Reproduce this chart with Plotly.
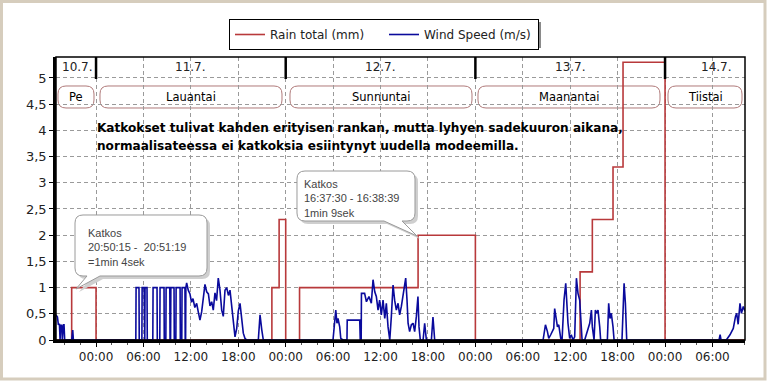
import plotly.graph_objects as go

# ---------------- data ----------------
rain_time = ["2015-07-10 18:56", "2015-07-10 20:55", "2015-07-11 00:00", "2015-07-11 22:15",
             "2015-07-11 23:10", "2015-07-12 00:00", "2015-07-12 01:45", "2015-07-12 16:45",
             "2015-07-13 00:00", "2015-07-13 13:15", "2015-07-13 14:48", "2015-07-13 17:25",
             "2015-07-13 18:41", "2015-07-14 00:00", "2015-07-14 10:07"]
rain_total = [0, 1, 0, 1, 2.3, 0, 1, 2, 0, 1.3, 2.3, 3.3, 5.3, 0, 0]

wind_time = [
    "2015-07-10 18:56", "2015-07-10 19:07", "2015-07-10 19:14", "2015-07-10 19:22", "2015-07-10 19:27",
    "2015-07-10 19:32", "2015-07-10 19:40", "2015-07-10 19:44", "2015-07-10 19:52", "2015-07-10 19:57",
    "2015-07-10 20:02", "2015-07-10 20:55", "2015-07-10 21:03", "2015-07-10 21:08",
    "2015-07-11 05:02", "2015-07-11 05:04", "2015-07-11 05:26", "2015-07-11 05:28", "2015-07-11 05:48",
    "2015-07-11 05:50", "2015-07-11 06:05", "2015-07-11 06:07", "2015-07-11 06:10", "2015-07-11 06:12",
    "2015-07-11 06:27", "2015-07-11 06:29", "2015-07-11 07:11", "2015-07-11 07:13", "2015-07-11 07:43",
    "2015-07-11 07:45", "2015-07-11 08:04", "2015-07-11 08:06", "2015-07-11 08:36", "2015-07-11 08:38",
    "2015-07-11 08:50", "2015-07-11 08:52", "2015-07-11 09:20", "2015-07-11 09:22", "2015-07-11 09:26",
    "2015-07-11 09:28", "2015-07-11 09:52", "2015-07-11 09:54", "2015-07-11 10:06", "2015-07-11 10:08",
    "2015-07-11 10:38", "2015-07-11 10:40", "2015-07-11 10:51", "2015-07-11 10:53", "2015-07-11 11:15",
    "2015-07-11 11:17", "2015-07-11 11:20", "2015-07-11 11:22", "2015-07-11 11:28", "2015-07-11 11:40",
    "2015-07-11 11:53", "2015-07-11 12:05", "2015-07-11 12:16", "2015-07-11 12:30", "2015-07-11 12:44",
    "2015-07-11 12:55", "2015-07-11 13:09", "2015-07-11 13:22", "2015-07-11 13:35", "2015-07-11 13:47",
    "2015-07-11 14:00", "2015-07-11 14:13", "2015-07-11 14:25", "2015-07-11 14:38", "2015-07-11 14:50",
    "2015-07-11 15:03", "2015-07-11 15:15", "2015-07-11 15:28", "2015-07-11 15:41", "2015-07-11 15:54",
    "2015-07-11 16:06", "2015-07-11 16:19", "2015-07-11 16:32", "2015-07-11 16:45", "2015-07-11 16:57",
    "2015-07-11 17:10", "2015-07-11 17:22", "2015-07-11 17:35", "2015-07-11 17:48", "2015-07-11 18:00",
    "2015-07-11 18:13", "2015-07-11 18:26", "2015-07-11 18:38", "2015-07-11 18:51", "2015-07-11 19:04",
    "2015-07-11 20:32", "2015-07-11 20:45", "2015-07-11 20:58", "2015-07-11 21:10",
    "2015-07-12 05:59", "2015-07-12 06:20", "2015-07-12 06:29", "2015-07-12 06:37", "2015-07-12 06:50",
    "2015-07-12 06:58", "2015-07-12 07:15", "2015-07-12 07:45", "2015-07-12 07:47", "2015-07-12 09:22",
    "2015-07-12 09:26", "2015-07-12 09:33", "2015-07-12 09:35", "2015-07-12 09:59", "2015-07-12 10:13",
    "2015-07-12 10:32", "2015-07-12 10:50", "2015-07-12 11:03", "2015-07-12 11:16", "2015-07-12 11:28",
    "2015-07-12 11:41", "2015-07-12 11:53", "2015-07-12 12:06", "2015-07-12 12:19", "2015-07-12 12:32",
    "2015-07-12 12:44", "2015-07-12 12:57", "2015-07-12 13:10", "2015-07-12 13:22", "2015-07-12 13:35",
    "2015-07-12 13:47", "2015-07-12 14:00", "2015-07-12 14:13", "2015-07-12 14:25", "2015-07-12 14:38",
    "2015-07-12 14:51", "2015-07-12 15:11", "2015-07-12 15:21", "2015-07-12 15:29", "2015-07-12 15:41",
    "2015-07-12 15:54", "2015-07-12 16:07", "2015-07-12 16:19", "2015-07-12 16:32", "2015-07-12 16:44",
    "2015-07-12 16:52", "2015-07-12 17:02", "2015-07-12 17:23", "2015-07-12 17:35", "2015-07-12 17:48",
    "2015-07-12 18:26", "2015-07-12 18:38", "2015-07-12 18:51",
    "2015-07-13 08:34", "2015-07-13 08:52", "2015-07-13 09:07", "2015-07-13 09:17", "2015-07-13 09:32",
    "2015-07-13 09:42", "2015-07-13 09:55", "2015-07-13 10:02", "2015-07-13 10:13", "2015-07-13 10:23",
    "2015-07-13 10:33", "2015-07-13 10:48", "2015-07-13 10:58", "2015-07-13 11:13", "2015-07-13 11:26",
    "2015-07-13 11:34", "2015-07-13 11:43", "2015-07-13 11:56", "2015-07-13 12:08", "2015-07-13 12:21",
    "2015-07-13 12:34", "2015-07-13 12:47", "2015-07-13 12:59", "2015-07-13 13:12", "2015-07-13 13:20",
    "2015-07-13 13:30", "2015-07-13 13:50", "2015-07-13 14:10", "2015-07-13 14:28", "2015-07-13 14:41",
    "2015-07-13 14:48", "2015-07-13 15:01", "2015-07-13 15:11", "2015-07-13 15:21", "2015-07-13 15:31",
    "2015-07-13 15:44", "2015-07-13 15:51", "2015-07-13 16:42", "2015-07-13 16:52", "2015-07-13 17:02",
    "2015-07-13 17:12", "2015-07-13 17:25", "2015-07-13 17:33", "2015-07-13 18:33", "2015-07-13 18:49",
    "2015-07-13 18:59", "2015-07-13 19:09",
    "2015-07-14 06:50", "2015-07-14 06:58", "2015-07-14 07:05", "2015-07-14 07:45", "2015-07-14 08:13",
    "2015-07-14 08:38", "2015-07-14 08:55", "2015-07-14 09:04", "2015-07-14 09:15", "2015-07-14 09:29",
    "2015-07-14 09:40", "2015-07-14 09:54", "2015-07-14 10:07"]
wind_speed = [
    0.48, 0.44, 0.29, 0.31, 0.0, 0.29, 0.27, 0.0, 0.29, 0.29, 0.0, 0.0, 0.19, 0.0,
    0, 1.0, 1.0, 0, 0, 1.0, 1.0, 0.0, 0.0, 1.0, 1.0, 0, 0, 1.0, 1.0, 0, 0, 1.0, 1.0, 0,
    0, 1.0, 1.0, 0, 0, 1.0, 1.0, 0, 0, 1.0, 1.0, 0, 0, 1.0, 1.0, 0.0, 0.0, 1.0, 1.09, 0.95,
    0.88, 0.72, 0.79, 0.62, 0.7, 0.55, 0.38, 0.54, 0.8, 1.06, 0.92, 0.88, 0.65, 0.73, 0.57,
    0.9, 0.75, 1.18, 0.95, 0.57, 0.45, 0.95, 1.0, 0.85, 0.95, 0.64, 0.25, 0.06, 0.22, 0.55,
    0.7, 0.45, 0.13, 0.03, 0, 0, 0.48, 0.2, 0,
    0, 0.57, 0.32, 0.41, 0.25, 0.03, 0, 0, 0.38, 0.38, 0, 0, 0.89, 0.89, 0.73,
    0.83, 0.70, 1.15, 0.92, 0.83, 0.57, 0.76, 0.48, 0.76, 0.41, 0.70, 0.25, 0.0, 0.45, 1.05,
    0.76, 0.57, 0.70, 0.48, 0.64, 0.89, 1.18, 0.76, 0.32, 0.16, 0.29, 0.32, 0.16, 0.45, 0.83,
    0.25, 0, 0, 0.32, 0, 0, 0.44, 0,
    0, 0.29, 0.16, 0.03, 0.10, 0.16, 0.22, 0.60, 0.45, 0.25, 0.29, 0.03, 0, 0.76, 1.08,
    0.70, 0.32, 0.03, 0.10, 0, 0.06, 1.18, 0.89, 0.76, 0.45, 0, 0, 0.16, 0.32, 0.57,
    0.25, 0, 0.57, 0.51, 0.57, 0.25, 0, 0, 0.70, 0.41, 0.51, 0.25, 0, 0, 1.08, 0.70, 0,
    0, 0.1, 0, 0, 0.1, 0.22, 0.45, 0.51, 0.3, 0.7, 0.51, 0.64, 0.55]

x_range = ["2015-07-10 18:56", "2015-07-14 10:07"]
x_tick_times = ["2015-07-11 00:00", "2015-07-11 06:00", "2015-07-11 12:00", "2015-07-11 18:00",
                "2015-07-12 00:00", "2015-07-12 06:00", "2015-07-12 12:00", "2015-07-12 18:00",
                "2015-07-13 00:00", "2015-07-13 06:00", "2015-07-13 12:00", "2015-07-13 18:00",
                "2015-07-14 00:00", "2015-07-14 06:00"]
x_tick_labels = ["00:00", "06:00", "12:00", "18:00"] * 3 + ["00:00", "06:00"]
y_ticks = [0, 0.5, 1, 1.5, 2, 2.5, 3, 3.5, 4, 4.5, 5]
y_tick_labels = ["0", "0,5", "1", "1,5", "2", "2,5", "3", "3,5", "4", "4,5", "5"]

midnights = ["2015-07-11 00:00", "2015-07-12 00:00", "2015-07-13 00:00", "2015-07-14 00:00"]
date_labels = ["10.7.", "11.7.", "12.7.", "13.7.", "14.7."]
date_label_times = ["2015-07-10 21:36", "2015-07-11 12:00", "2015-07-12 12:00",
                    "2015-07-13 12:00", "2015-07-14 06:27"]
weekday_labels = ["Pe", "Lauantai", "Sunnuntai", "Maanantai", "Tiistai"]

note_lines = ["Katkokset tulivat kahden erityisen rankan, mutta lyhyen sadekuuron aikana,",
              "normaalisateessa ei katkoksia esiintynyt uudella modeemilla."]
callout1_text = "Katkos<br>20:50:15 -  20:51:19<br>=1min 4sek"
callout2_text = "Katkos<br>16:37:30 - 16:38:39<br>1min 9sek"

# ---------------- geometry helpers (pixel -> paper) ----------------
W, H = 768, 384
PL, PR, PT, PB = 56, 745, 57, 340


def px(x):
    return (x - PL) / (PR - PL)


def py(y):
    return (PB - y) / (PB - PT)


def rounded_path(x0, y0, x1, y1, r, tail=None, dx=0, dy=0):
    x0 += dx; x1 += dx; y0 += dy; y1 += dy
    def P(x, y):
        return f"{px(x):.5f},{py(y):.5f}"
    s = f"M {P(x0 + r, y0)} L {P(x1 - r, y0)} Q {P(x1, y0)} {P(x1, y0 + r)} "
    s += f"L {P(x1, y1 - r)} Q {P(x1, y1)} {P(x1 - r, y1)} "
    if tail:
        ta, tb, tx, ty = tail
        s += f"L {P(tb + dx, y1)} L {P(tx + dx, ty + dy)} L {P(ta + dx, y1)} "
    s += f"L {P(x0 + r, y1)} Q {P(x0, y1)} {P(x0, y1 - r)} "
    s += f"L {P(x0, y0 + r)} Q {P(x0, y0)} {P(x0 + r, y0)} Z"
    return s


FONT = "DejaVu Sans"
RED = "#b8393b"
BLUE = "#0a0a9c"

fig = go.Figure()
fig.add_trace(go.Scatter(x=rain_time, y=rain_total, mode="lines", line_shape="hv",
                         name="Rain total (mm)", line=dict(color=RED, width=1.6)))
fig.add_trace(go.Scatter(x=wind_time, y=wind_speed, mode="lines",
                         name="Wind Speed (m/s)", line=dict(color=BLUE, width=1.6)))

shapes = []
# outer light frame
shapes.append(dict(type="rect", xref="paper", yref="paper", x0=px(1.5), x1=px(765), y0=py(1.5), y1=py(379),
                   line=dict(color="#d6cdbd", width=3), layer="below"))
# weekday rounded boxes
box_px = [(58, 94), (100, 282), (290, 472), (478, 660), (668, 742)]
for (a, b) in box_px:
    shapes.append(dict(type="path", xref="paper", yref="paper", path=rounded_path(a, 86, b, 108, 8),
                       fillcolor="white", line=dict(color="#b07a7a", width=1), layer="between"))
# day separators (thick black) in header band
for m in midnights:
    shapes.append(dict(type="line", xref="x", yref="paper", x0=m, x1=m, y0=py(79), y1=1,
                       line=dict(color="black", width=2.5), layer="above"))
# plot frame
shapes.append(dict(type="rect", xref="paper", yref="paper", x0=0, x1=1, y0=0, y1=1,
                   line=dict(color="black", width=1.5), layer="above"))
# callout bubbles (shadow + bubble)
c1 = dict(box=(75, 215, 207, 276), tail=(87, 100, 76, 289))
c2 = dict(box=(297, 171, 415, 221), tail=(384, 402, 417, 236))
for c in (c1, c2):
    x0, y0, x1, y1 = c["box"]
    shapes.append(dict(type="path", xref="paper", yref="paper",
                       path=rounded_path(x0, y0, x1, y1, 8, c["tail"], dx=3, dy=3),
                       fillcolor="#cfcfcf", line=dict(width=0), layer="above"))
    shapes.append(dict(type="path", xref="paper", yref="paper",
                       path=rounded_path(x0, y0, x1, y1, 8, c["tail"]),
                       fillcolor="white", line=dict(color="#9a9a9a", width=1), layer="above"))
# legend shadow
shapes.append(dict(type="rect", xref="paper", yref="paper", x0=px(232), x1=px(541), y0=py(48), y1=py(22),
                   fillcolor="#8a8a8a", line=dict(width=0), layer="below"))

annotations = []
for t, lab in zip(date_label_times, date_labels):
    annotations.append(dict(x=t, y=py(67), xref="x", yref="paper", text=lab, showarrow=False,
                            xanchor="center", yanchor="middle",
                            font=dict(family=FONT, size=12, color="#222")))
for (a, b), lab in zip(box_px, weekday_labels):
    annotations.append(dict(x=px((a + b) / 2), y=py(97), xref="paper", yref="paper", text=lab,
                            showarrow=False, xanchor="center", yanchor="middle",
                            font=dict(family=FONT, size=11.5, color="black")))
for line_text, yy in zip(note_lines, (128, 146)):
    annotations.append(dict(x=px(95), y=py(yy), xref="paper", yref="paper", text=line_text, showarrow=False,
                            xanchor="left", yanchor="middle", align="left",
                            font=dict(family=FONT, size=12.1, color="black", weight="bold")))
annotations.append(dict(x=px(86), y=py(225), xref="paper", yref="paper", text=callout1_text, showarrow=False,
                        xanchor="left", yanchor="top", align="left",
                        font=dict(family="Liberation Sans", size=11, color="#444")))
annotations.append(dict(x=px(302), y=py(176), xref="paper", yref="paper", text=callout2_text, showarrow=False,
                        xanchor="left", yanchor="top", align="left",
                        font=dict(family="Liberation Sans", size=11, color="#444")))

fig.update_layout(
    width=W, height=H,
    margin=dict(l=PL, r=W - PR, t=PT, b=H - PB, autoexpand=False),
    paper_bgcolor="white", plot_bgcolor="white",
    font=dict(family=FONT, size=12, color="#222"),
    showlegend=True,
    legend=dict(orientation="h", x=px(229), xanchor="left", y=py(19), yanchor="top",
                bgcolor="white", bordercolor="black", borderwidth=1,
                entrywidth=109, entrywidthmode="pixels",
                font=dict(family=FONT, size=12, color="#222")),
    shapes=shapes, annotations=annotations,
)
fig.update_xaxes(type="date", range=x_range, tickvals=x_tick_times, ticktext=x_tick_labels,
                 showgrid=True, gridcolor="#9a9a9a", griddash="4px,3px", gridwidth=1,
                 showline=True, linecolor="black", linewidth=2.5,
                 ticks="outside", ticklen=4, tickcolor="black",
                 minor=dict(dtick=7200000, ticks="outside", ticklen=2, tickcolor="#555", showgrid=False),
                 tickfont=dict(family=FONT, size=12, color="#222"), zeroline=False)
fig.update_yaxes(range=[0, 5.4], tickvals=y_ticks, ticktext=y_tick_labels,
                 showgrid=True, gridcolor="#9a9a9a", griddash="4px,3px", gridwidth=1,
                 showline=True, linecolor="black", linewidth=2.5,
                 ticks="outside", ticklen=4, tickcolor="black",
                 tickfont=dict(family=FONT, size=13, color="#222"), zeroline=False)

fig.write_html("out.html", config={"displayModeBar": False},
               post_script="document.body.style.margin='0';")
